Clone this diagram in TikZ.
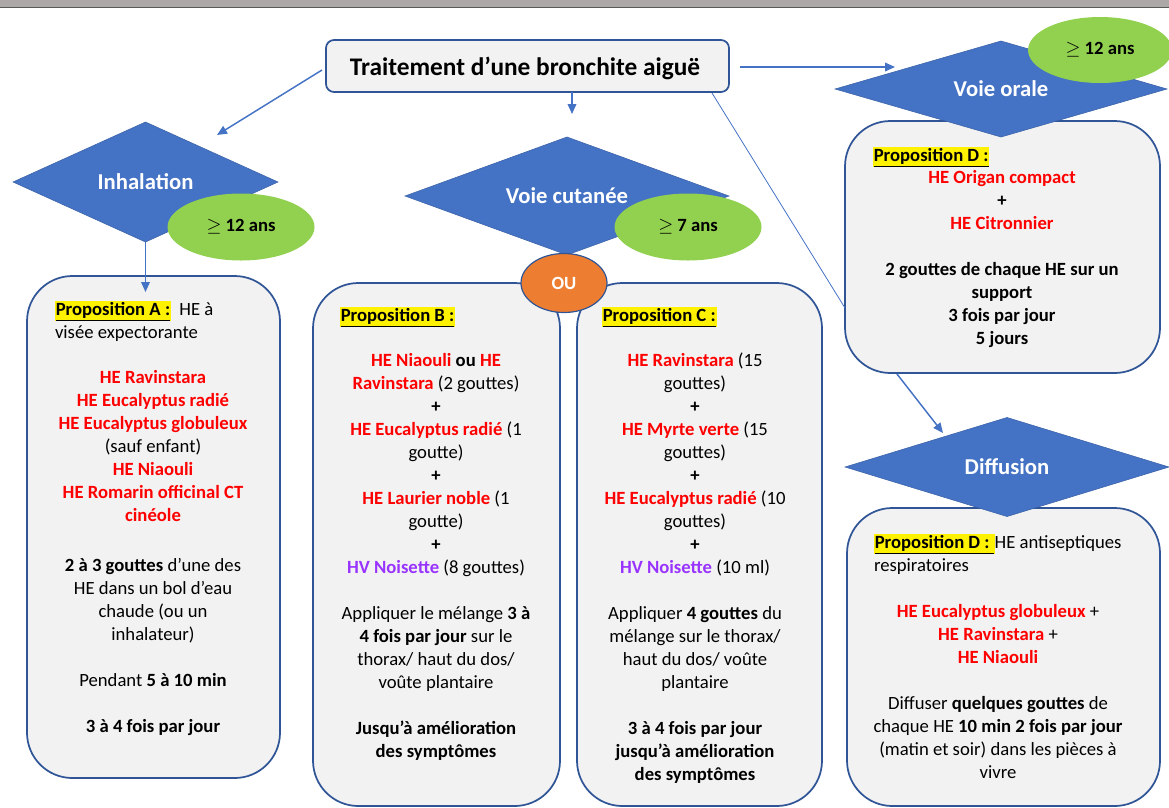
\documentclass[tikz,border=0pt]{standalone}
\usepackage{fontspec}
\setmainfont{Carlito}
\usetikzlibrary{shapes.geometric,arrows.meta}
\definecolor{dblue}{HTML}{4472C4}
\definecolor{bord}{HTML}{2F5597}
\definecolor{boxfill}{HTML}{F2F2F2}
\definecolor{lgreen}{HTML}{92D050}
\definecolor{orng}{HTML}{ED7D31}
\definecolor{hred}{HTML}{FF0000}
\definecolor{hpurple}{HTML}{9933FF}
\definecolor{barg}{HTML}{ABA8A7}
\newcommand{\prop}[1]{{\setlength{\fboxsep}{0.6pt}\colorbox{yellow}{\underline{\textbf{#1}}}}}
\newcommand{\rd}[1]{\textcolor{hred}{\textbf{#1}}}
\newcommand{\pv}[1]{\textcolor{hpurple}{\textbf{#1}}}
\newcommand{\gap}{\\[17.25pt]}
\begin{document}
\begin{tikzpicture}[x=0.75pt,y=-0.75pt,
  rbox/.style 2 args={draw=bord, fill=boxfill, line width=1.3pt, rounded corners=34pt,
     minimum width={#1*0.75pt}, minimum height={#2*0.75pt}, inner sep=0, outer sep=0},
  dia/.style 2 args={diamond, fill=dblue, draw=dblue!85!black, line width=0.4pt, aspect=2.8,
     minimum width={#1*0.75pt}, minimum height={#2*0.75pt}, inner sep=0, outer sep=0,
     text=white, font=\fontsize{17}{20}\selectfont\bfseries},
  age/.style={ellipse, fill=lgreen, minimum width={147*0.75pt}, minimum height={67*0.75pt},
     inner sep=0, font=\fontsize{14}{17}\selectfont\bfseries},
  txt/.style={font=\fontsize{14}{17.25}\selectfont, inner sep=0, outer sep=0, align=center},
  hdr/.style={font=\fontsize{14}{17.25}\selectfont, inner sep=0, outer sep=0, align=left},
  arr/.style={draw=dblue, line width=1.1pt, -{Triangle[length=7.5pt,width=6.5pt]}},
  thin/.style={draw=dblue, line width=0.6pt}]
\useasboundingbox (0,0) rectangle (1169,807);
% top bar
\fill[barg] (0,0) rectangle (1169,7);
\draw[black!65, line width=1.2pt] (0,7.5) -- (1169,7.5);

% boxes
\node[rbox={253}{502}] (boxA) at (153.5,527) {};
\node[rbox={247}{523}] (boxB) at (436.5,544.5) {};
\node[rbox={245}{523}] (boxC) at (699.5,544.5) {};
\node[rbox={315}{252}] (boxD) at (1002.5,247) {};
\node[rbox={313}{298}] (boxE) at (1003.5,657) {};
\node[draw=bord, fill=boxfill, line width=1.3pt, rounded corners=6pt,
  minimum width={403*0.75pt}, minimum height={52*0.75pt}, inner sep=0,
  font=\fontsize{19}{23}\selectfont\bfseries] (title) at (527.5,66) {};
\node[inner sep=0, font=\fontsize{19}{23}\selectfont\bfseries] (titleT) at (525,68) {Traitement d’une bronchite aiguë};

% diamonds
\node[dia={265}{120}] (inh) at (145.5,182) {Inhalation};
\node[dia={324}{118}] (cut) at (567,196) {Voie cutanée};
\node[dia={332}{96}] (ora) at (1001,89) {Voie orale};
\node[dia={324}{99}] (dif) at (1007,467) {Diffusion};

% age ellipses
\node[age] (ageA) at (241,227) {$\geq$ 12 ans};
\node[age] (ageB) at (688,227) {$\geq$ 7 ans};
\node[age, minimum width={144*0.75pt}, minimum height={66*0.75pt}] (ageD) at (1100,50) {$\geq$ 12 ans};
\node[ellipse, fill=orng, draw=bord, line width=0.9pt, minimum width={86*0.75pt},
  minimum height={59*0.75pt}, inner sep=0, text=white, font=\fontsize{14}{17}\selectfont\bfseries] (ou) at (564,283) {OU};

% connectors
\coordinate (tL) at (322,70);
\coordinate (inhIn) at (217,135);
\coordinate (tB) at (572,92);
\coordinate (cutIn) at (572,114);
\coordinate (tR) at (740,67);
\coordinate (oraIn) at (895,67);
\coordinate (tD) at (712,93);
\coordinate (dIn) at (845,308);
\coordinate (aIn) at (145.5,292);
\coordinate (dOut) at (897,374);
\coordinate (difIn) at (943,433);
\draw[arr] (tL) -- (inhIn);
\draw[arr] (tB) -- (cutIn);
\draw[arr] (tR) -- (oraIn);
\draw[thin] (tD) -- (dIn);
\draw[arr] (inh.south) -- (aIn);
\draw[arr] (dOut) -- (difIn);

% Box A text (anchor base = last line baseline)
\node[hdr, anchor=base west] (hA) at (55,338) {\prop{Proposition A :}\ \ HE à\\visée expectorante};
\node[txt, anchor=base] (tA) at (153,732) {\rd{HE Ravinstara}\\\rd{HE Eucalyptus radié}\\\rd{HE Eucalyptus globuleux}\\(sauf enfant)\\\rd{HE Niaouli}\\\rd{HE Romarin officinal CT}\\\rd{cinéole}\\[20pt]
\textbf{2 à 3 gouttes} d’une des\\HE dans un bol d’eau\\chaude (ou un\\inhalateur)\gap
Pendant \textbf{5 à 10 min}\gap
\textbf{3 à 4 fois par jour}};

% Box B text
\node[hdr, anchor=base west] (hB) at (340,321) {\prop{Proposition B :}};
\node[txt, anchor=base] (tB2) at (436,757) {\rd{HE Niaouli} \textbf{ou} \rd{HE}\\\rd{Ravinstara} (2 gouttes)\\\textbf{+}\\\rd{HE Eucalyptus radié} (1\\goutte)\\\textbf{+}\\\rd{HE Laurier noble} (1\\goutte)\\\textbf{+}\\\pv{HV Noisette} (8 gouttes)\gap
Appliquer le mélange \textbf{3 à}\\\textbf{4 fois par jour} sur le\\thorax/ haut du dos/\\voûte plantaire\gap
\textbf{Jusqu’à amélioration}\\\textbf{des symptômes}};

% Box C text
\node[hdr, anchor=base west] (hC) at (602,321) {\prop{Proposition C :}};
\node[txt, anchor=base] (tC) at (695,780) {\rd{HE Ravinstara} (15\\gouttes)\\\textbf{+}\\\rd{HE Myrte verte} (15\\gouttes)\\\textbf{+}\\\rd{HE Eucalyptus radié} (10\\gouttes)\\\textbf{+}\\\pv{HV Noisette} (10 ml)\gap
Appliquer \textbf{4 gouttes} du\\mélange sur le thorax/\\haut du dos/ voûte\\plantaire\gap
\textbf{3 à 4 fois par jour}\\\textbf{jusqu’à amélioration}\\\textbf{des symptômes}};

% Box D text
\node[hdr, anchor=base west] (hD) at (873,161) {\prop{Proposition D :}};
\node[txt, anchor=base] (tD2) at (1002,344) {\rd{HE Origan compact}\\\textbf{+}\\\rd{HE Citronnier}\gap
\textbf{2 gouttes de chaque HE sur un}\\\textbf{support}\\\textbf{3 fois par jour}\\\textbf{5 jours}};

% Box E text
\node[hdr, anchor=base west] (hE) at (874,571) {\prop{Proposition D :\ }HE antiseptiques\\respiratoires};
\node[txt, anchor=base] (tE) at (998,778) {\rd{HE Eucalyptus globuleux} +\\\rd{HE Ravinstara} +\\\rd{HE Niaouli}\gap
Diffuser \textbf{quelques gouttes} de\\chaque HE \textbf{10 min 2 fois par jour}\\(matin et soir) dans les pièces à\\vivre};
\end{tikzpicture}
\end{document}
